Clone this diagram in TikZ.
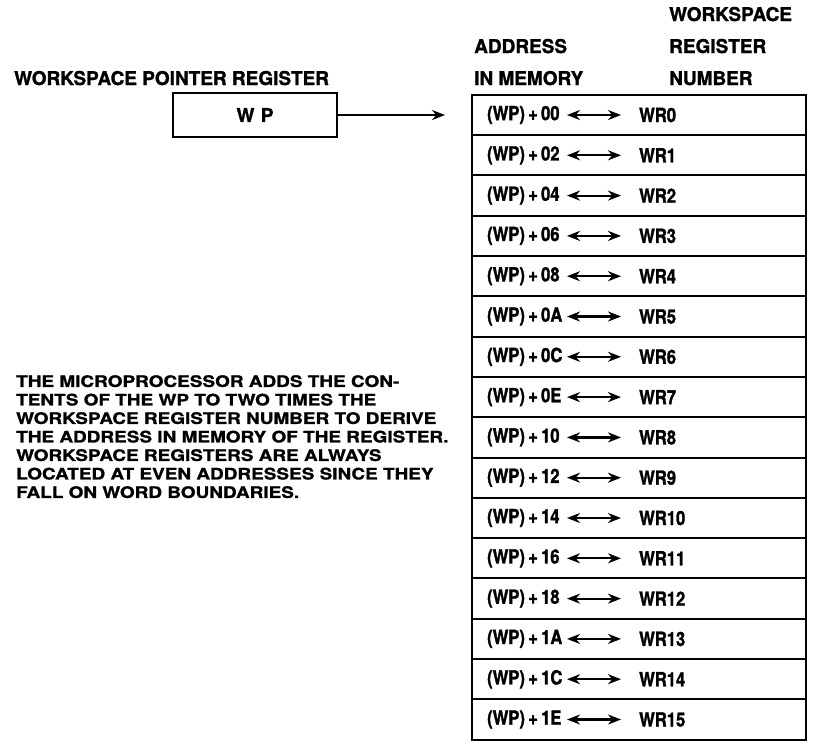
\documentclass[tikz,border=0pt]{standalone}
\usepackage{fontspec}
\setmainfont{TeX Gyre Heros}[BoldFeatures={FakeBold=1.3}]
\newfontfamily\cellfont{TeX Gyre Heros}[FakeStretch=0.85,BoldFeatures={FakeBold=1.5}]
\newfontfamily\notefont{TeX Gyre Heros}[FakeStretch=1.2,BoldFeatures={FakeBold=1.2}]
\usepackage{tikz}
\usetikzlibrary{arrows.meta,positioning}
\tikzset{
    rowbox/.style={draw,line width=2pt,minimum width=334pt,minimum height=40.3pt,inner sep=0pt},
    wpbox/.style={draw,line width=2pt,minimum width=164pt,minimum height=44pt,inner sep=0pt},
    head/.style={font=\fontsize{19}{32}\selectfont\bfseries,inner sep=0pt,align=left},
    cell/.style={font=\cellfont\fontsize{19.5}{20}\selectfont\bfseries,inner sep=0pt},
    addr/.style={cell,text width=74pt,align=left},
    arr/.style={->,>={Stealth[length=13pt,width=10pt]},line width=2.2pt},
    darr/.style={<->,>={Stealth[length=13pt,width=10pt]},line width=2.2pt},
}
\tikzstyle{every node}=[font=\bfseries]
\begin{document}
\begin{tikzpicture}[x=1pt,y=-1pt]
        \useasboundingbox (0,0) rectangle (826,740);

        % headings
        \node[head,anchor=base west] (wphead) at (14,85) {WORKSPACE POINTER REGISTER};
        \node[head,anchor=base west] (addrhead) at (474,85) {ADDRESS\\IN MEMORY};
        \node[head,anchor=base west] (numhead) at (669,85) {WORKSPACE\\REGISTER\\NUMBER};

        % pointer register
        \node[wpbox,font=\fontsize{19}{20}\selectfont\bfseries] (wp) at (255,115) {W\,\,P};

        % workspace rows
        \foreach \i/\hex in {0/00,1/02,2/04,3/06,4/08,5/0A,6/0C,7/0E,8/10,9/12,10/14,11/16,12/18,13/1A,14/1C,15/1E} {
            \node[rowbox] (r\i) at (639,115+40.3*\i) {};
            \node[addr,anchor=west] (a\i) at ([xshift=16pt]r\i.west) {(WP)\,+\,\hex};
            \node[cell,anchor=west] (w\i) at ([xshift=168pt]r\i.west) {WR\i};
            \draw[darr] ([xshift=96pt]r\i.west) -- ([xshift=-18pt]w\i.west);
        }

        \draw[arr,shorten >=26pt] (wp.east) -- (r0.west);

        % explanation
        \node[font=\notefont\fontsize{15.8}{18.5}\selectfont\bfseries,anchor=north west,align=left,inner sep=0pt] (note) at (16,375)
            {THE MICROPROCESSOR ADDS THE CON-\\
             TENTS OF THE WP TO TWO TIMES THE\\
             WORKSPACE REGISTER NUMBER TO DERIVE\\
             THE ADDRESS IN MEMORY OF THE REGISTER.\\
             WORKSPACE REGISTERS ARE ALWAYS\\
             LOCATED AT EVEN ADDRESSES SINCE THEY\\
             FALL ON WORD BOUNDARIES.};
\end{tikzpicture}
\end{document}
